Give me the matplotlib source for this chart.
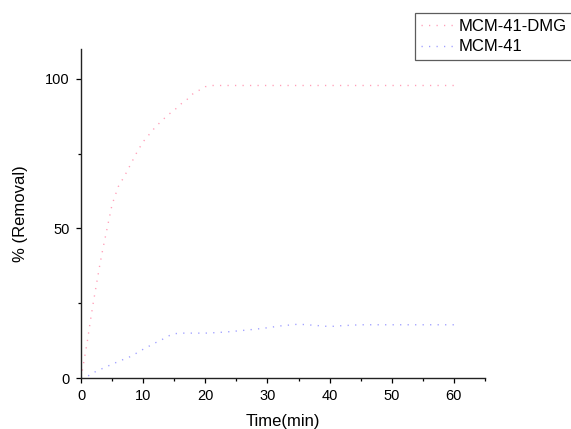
import matplotlib
matplotlib.use("Agg")
import matplotlib.pyplot as plt
from matplotlib.ticker import MultipleLocator

plt.rcParams['font.family'] = ['Liberation Sans', 'DejaVu Sans']

# MCM-41-DMG removal curve
t_dmg = [0, 0.5, 1, 1.5, 2, 2.5, 3, 3.5, 4, 5, 6, 7, 8, 9, 10, 11, 12, 13, 14,
         15, 16, 17, 18, 19, 20, 21, 25, 30, 35, 40, 45, 50, 55, 60]
r_dmg = [0, 6, 12, 19, 25.5, 31.5, 37.5, 43, 48, 58, 64, 67.5, 71.5, 75.5, 79,
         81.5, 84, 86, 88, 89.5, 91.5, 93, 95, 96.2, 97.4, 97.8, 97.8, 97.8,
         97.8, 97.8, 97.8, 97.8, 97.8, 97.8]

# MCM-41 removal curve
t_mcm = [0, 1, 2, 4, 6, 8, 10, 12, 13, 14, 15, 16, 18, 20, 22, 24, 26, 28, 30,
         32, 35, 37, 40, 42, 45, 50, 55, 60]
r_mcm = [0, 0.5, 1.8, 3.7, 5.5, 7.2, 9.6, 11.8, 12.8, 14, 14.8, 15, 15, 15,
         15.2, 15.5, 15.9, 16.3, 16.8, 17.4, 18, 17.7, 17.2, 17.5, 17.8, 17.8,
         17.8, 17.8]

x_ticks = [0, 10, 20, 30, 40, 50, 60]
y_ticks = [0, 50, 100]

fig = plt.figure(figsize=(5.71, 4.29), dpi=100)
ax = fig.add_axes([81 / 571, 1 - 378 / 429, 404 / 571, 329 / 429])

l1, = ax.plot(t_dmg, r_dmg, color='#ff9fb8', lw=1.0, dashes=(0.9, 4.5),
              label='MCM-41-DMG')
l2, = ax.plot(t_mcm, r_mcm, color='#9f9fff', lw=1.0, dashes=(0.9, 4.5),
              label='MCM-41')

ax.set_xlim(0, 65)
ax.set_ylim(0, 110)
ax.set_xticks(x_ticks)
ax.set_yticks(y_ticks)
ax.xaxis.set_minor_locator(MultipleLocator(5))
ax.yaxis.set_minor_locator(MultipleLocator(25))

for s in ['top', 'right']:
    ax.spines[s].set_visible(False)
for s in ['left', 'bottom']:
    ax.spines[s].set_linewidth(1.0)
    ax.spines[s].set_color('#222222')

ax.tick_params(which='major', direction='out', length=3.6, width=0.9,
               labelsize=10.5, pad=4.5)
ax.tick_params(which='minor', direction='out', length=2.2, width=0.9)

ax.set_xlabel('Time(min)', fontsize=12, labelpad=8)
ax.set_ylabel('% (Removal)', fontsize=12, labelpad=12)

leg = fig.legend(handles=[l1, l2], loc='upper left',
                 bbox_to_anchor=(415 / 571, 1 - 12.7 / 429),
                 bbox_transform=fig.transFigure, fontsize=12,
                 frameon=True, fancybox=False, borderaxespad=0,
                 borderpad=0.35, handlelength=2.0, handletextpad=0.25,
                 labelspacing=0.35)
leg.get_frame().set_edgecolor('#333333')
leg.get_frame().set_linewidth(0.9)

fig.savefig('out.png', dpi=100)
